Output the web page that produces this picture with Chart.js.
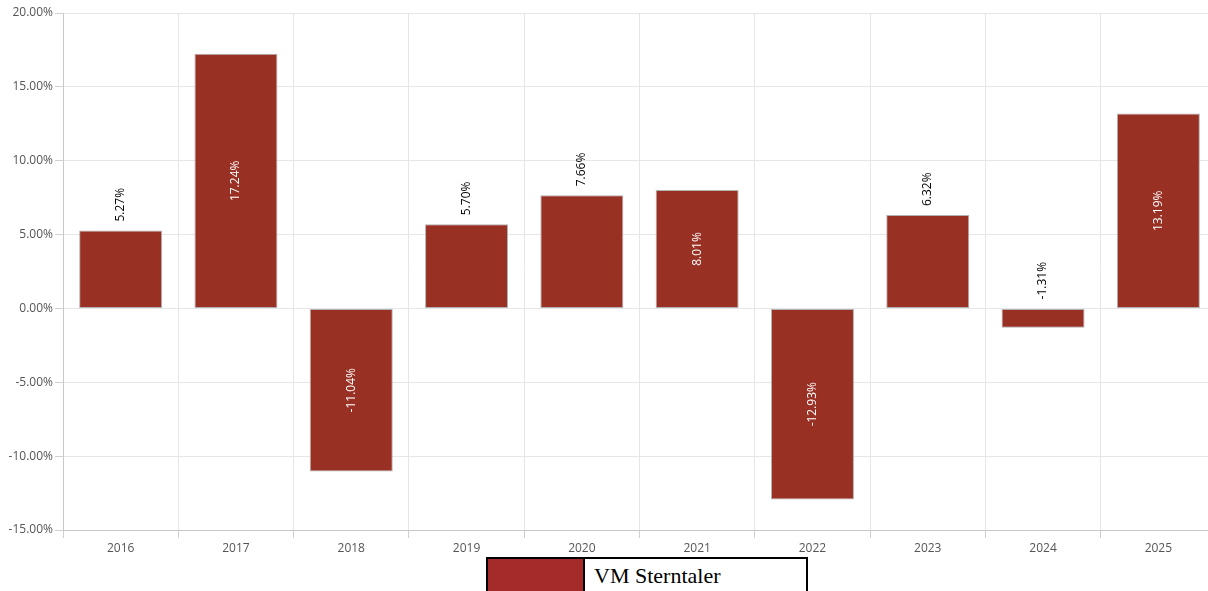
<!DOCTYPE html>
<html>
<head>
<meta charset="utf-8">
<script src="https://cdn.jsdelivr.net/npm/chart.js@4"></script>
<style>
html,body{margin:0;padding:0;background:#fff;overflow:hidden;}
#wrap{position:relative;width:1208px;height:591px;overflow:hidden;}
#c{position:absolute;left:0;top:0;}
#legend{position:absolute;left:486px;top:557px;width:318px;height:34px;border:2px solid #000;display:flex;box-sizing:content-box;}
#legend .sw{width:95px;height:100%;background:#a52a2a;border-right:2px solid #000;}
#legend .tx{font-family:"Liberation Serif",serif;font-size:22px;color:#000;line-height:34px;padding-left:9px;}
</style>
</head>
<body>
<div id="wrap">
<canvas id="c" width="1216" height="555"></canvas>
<div id="legend"><div class="sw"></div><div class="tx">VM Sterntaler</div></div>
</div>
<script>
const categories = ["2016","2017","2018","2019","2020","2021","2022","2023","2024","2025"];
const seriesName = "VM Sterntaler";
const values = [5.27, 17.24, -11.04, 5.70, 7.66, 8.01, -12.93, 6.32, -1.31, 13.19];
const yTicks = [20, 15, 10, 5, 0, -5, -10, -15];

const labelPlugin = {
  id: 'barLabels',
  afterDatasetsDraw(chart) {
    const ctx = chart.ctx;
    const meta = chart.getDatasetMeta(0);
    const yScale = chart.scales.y;
    const zeroY = yScale.getPixelForValue(0);
    ctx.save();
    ctx.font = '12px "Open Sans"';
    meta.data.forEach((bar, i) => {
      const v = values[i];
      const txt = v.toFixed(2) + '%';
      const inside = Math.abs(v) > 8;
      ctx.save();
      if (inside) {
        const cy = (bar.y + bar.base) / 2;
        ctx.translate(bar.x, cy);
        ctx.rotate(-Math.PI / 2);
        ctx.fillStyle = '#ffffff';
        ctx.textAlign = 'center';
        ctx.textBaseline = 'middle';
        ctx.fillText(txt, 0, 0);
      } else {
        const top = Math.min(bar.y, zeroY);
        ctx.translate(bar.x, top - 9);
        ctx.rotate(-Math.PI / 2);
        ctx.fillStyle = '#000000';
        ctx.textAlign = 'left';
        ctx.textBaseline = 'middle';
        ctx.fillText(txt, 0, 0);
      }
      ctx.restore();
    });
    ctx.restore();
  }
};

new Chart(document.getElementById('c'), {
  type: 'bar',
  data: {
    labels: categories,
    datasets: [{
      label: seriesName,
      data: values,
      backgroundColor: '#993024',
      borderColor: 'rgba(170,170,170,0.9)',
      borderWidth: 1,
      borderSkipped: false,
      categoryPercentage: 0.8,
      barPercentage: 0.9
    }]
  },
  options: {
    responsive: false,
    animation: false,
    layout: { padding: { top: 13, right: 0, left: 0, bottom: 0 } },
    plugins: { legend: { display: false }, tooltip: { enabled: false } },
    scales: {
      x: {
        grid: { color: '#e6e6e6', tickLength: 8, offset: true, tickColor: '#d0d0d0' },
        border: { color: '#c8c8c8' },
        ticks: { color: '#555', font: { family: '"Open Sans"', size: 12 }, padding: 3 },
        afterFit(s) { s.height = 25; }
      },
      y: {
        min: -15, max: 20,
        afterBuildTicks(s) { s.ticks = yTicks.map(v => ({ value: v })); },
        grid: { color: '#e6e6e6', tickLength: 8, tickColor: '#d0d0d0' },
        border: { color: '#c8c8c8' },
        ticks: {
          color: '#555', font: { family: '"Open Sans"', size: 12 }, padding: 2,
          callback: v => v.toFixed(2) + '%'
        },
        afterFit(s) { s.width = 63; }
      }
    }
  },
  plugins: [labelPlugin]
});
</script>
</body>
</html>
